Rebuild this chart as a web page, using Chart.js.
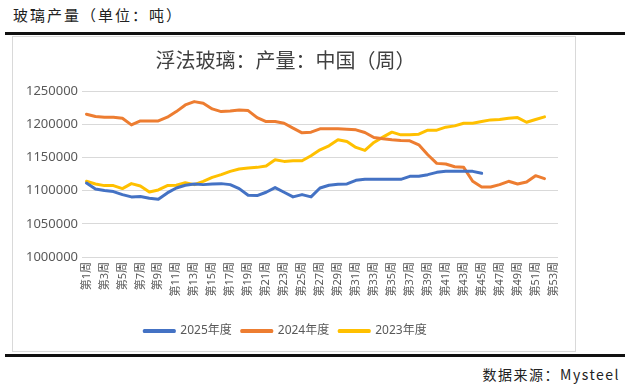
<!DOCTYPE html>
<html>
<head>
<meta charset="utf-8">
<script src="https://cdn.jsdelivr.net/npm/chart.js@4"></script>
<style>
  body { margin: 0; width: 630px; height: 390px; background: #fff; position: relative; font-family: "Noto Sans CJK SC", sans-serif; }
  #head { position: absolute; left: 13px; top: 4px; font-size: 15px; letter-spacing: 2px; color: #222; }
  .rule { position: absolute; left: 5px; width: 620px; height: 3px; background: #111; }
  #frame { position: absolute; left: 12px; top: 36px; width: 562px; height: 314px; border: 1px solid #d9d9d9; background: #fff; }
  #foot { position: absolute; right: 10px; top: 364px; font-size: 14px; letter-spacing: 1.5px; color: #222; }
</style>
</head>
<body>
<div id="head">玻璃产量（单位：吨）</div>
<div class="rule" style="top:32px"></div>
<div id="frame"><canvas id="myChart" width="562" height="314"></canvas></div>
<div class="rule" style="top:354px"></div>
<div id="foot">数据来源：Mysteel</div>
<script>
const weeks = ['第1周','第2周','第3周','第4周','第5周','第6周','第7周','第8周','第9周','第10周',
  '第11周','第12周','第13周','第14周','第15周','第16周','第17周','第18周','第19周','第20周',
  '第21周','第22周','第23周','第24周','第25周','第26周','第27周','第28周','第29周','第30周',
  '第31周','第32周','第33周','第34周','第35周','第36周','第37周','第38周','第39周','第40周',
  '第41周','第42周','第43周','第44周','第45周','第46周','第47周','第48周','第49周','第50周',
  '第51周','第52周','第53周'];

const y2025 = [1111500, 1102500, 1100000, 1098500, 1094000, 1090500, 1091000, 1088500, 1087000, 1096500,
  1104000, 1108000, 1110000, 1109000, 1110000, 1110500, 1109000, 1103000, 1093000, 1092500,
  1097500, 1104500, 1097500, 1090500, 1094000, 1090500, 1104000, 1108000, 1109500, 1110000,
  1115500, 1117000, 1117000, 1117000, 1117000, 1117000, 1121500, 1121500, 1124000, 1127500,
  1129000, 1129000, 1129000, 1129000, 1126000];

const y2024 = [1215000, 1211500, 1210500, 1210500, 1209000, 1199000, 1205000, 1205000, 1205000, 1210500,
  1219000, 1229000, 1234000, 1231500, 1223000, 1219000, 1220000, 1221500, 1220500, 1210000,
  1204000, 1204000, 1201500, 1194000, 1187000, 1188000, 1193000, 1193000, 1193000, 1192500,
  1191500, 1187500, 1180000, 1178000, 1176500, 1175500, 1175000, 1169000, 1154000, 1141000,
  1140000, 1136000, 1135000, 1114000, 1105500, 1105500, 1109000, 1114000, 1110000, 1113000,
  1122500, 1118000];

const y2023 = [1114000, 1110000, 1107500, 1107500, 1103000, 1110500, 1107000, 1098000, 1101000, 1107500,
  1108000, 1112000, 1109000, 1114000, 1120000, 1124000, 1129000, 1132500, 1134000, 1135000,
  1137000, 1146500, 1144000, 1145000, 1145000, 1152500, 1161500, 1167500, 1176500, 1174000,
  1165000, 1160500, 1172500, 1180500, 1188000, 1184000, 1184000, 1185000, 1191000, 1191000,
  1195500, 1197500, 1201500, 1201500, 1204000, 1206500, 1207000, 1209000, 1210000, 1203000,
  1207000, 1211000];

const seriesNames = ['2025年度', '2024年度', '2023年度'];
const seriesColors = ['#4472C4', '#ED7D31', '#FFC000'];

const gray = '#595959';
const latin = '"Noto Sans", "Noto Sans CJK SC", sans-serif';

const mkSet = (i, data) => ({
  label: seriesNames[i],
  data: data,
  borderColor: seriesColors[i],
  backgroundColor: seriesColors[i],
  borderWidth: 3,
  pointRadius: 0,
  tension: 0,
  borderJoinStyle: 'round',
  borderCapStyle: 'round'
});

new Chart(document.getElementById('myChart'), {
  type: 'line',
  data: {
    labels: weeks,
    datasets: [mkSet(0, y2025), mkSet(1, y2024), mkSet(2, y2023)]
  },
  options: {
    responsive: false,
    animation: false,
    layout: { padding: { top: 11, right: 17, bottom: 4, left: 0 } },
    plugins: {
      title: {
        display: true,
        text: '浮法玻璃：产量：中国（周）',
        color: '#404040',
        font: { family: '"Noto Sans CJK SC", sans-serif', size: 20, weight: 'normal' },
        padding: { top: 0, bottom: 19 }
      },
      legend: {
        position: 'bottom',
        labels: {
          color: gray,
          font: { family: latin, size: 12 },
          boxWidth: 30,
          boxHeight: 1,
          padding: 10
        }
      },
      tooltip: { enabled: false }
    },
    scales: {
      x: {
        offset: true,
        grid: { display: false, drawTicks: false },
        border: { display: false },
        afterFit: (s) => { s.height = 58; },
        ticks: {
          color: gray,
          font: { family: latin, size: 11 },
          autoSkip: false,
          maxRotation: 90,
          minRotation: 90,
          padding: 5,
          callback: function (v, i) { return i % 2 === 0 ? this.getLabelForValue(v) : ''; }
        }
      },
      y: {
        min: 1000000,
        max: 1250000,
        grid: { color: '#d9d9d9', drawTicks: false },
        border: { display: false },
        afterFit: (s) => { s.width = 69; },
        ticks: {
          stepSize: 50000,
          color: gray,
          font: { family: latin, size: 13 },
          padding: 4,
          callback: (v) => String(v)
        }
      }
    }
  }
});
</script>
</body>
</html>
